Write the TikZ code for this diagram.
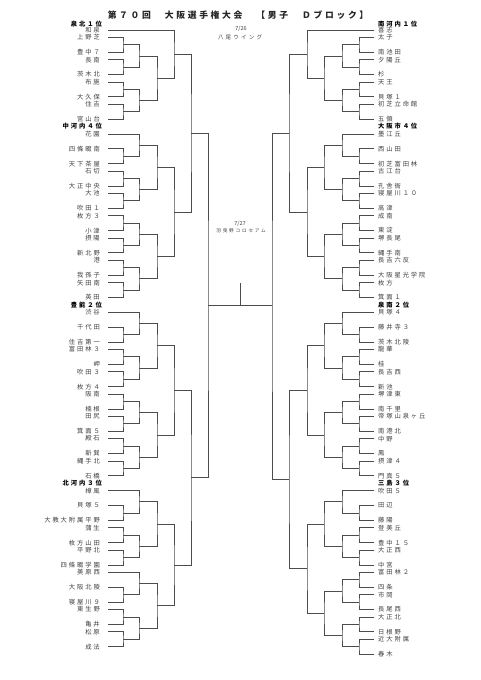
\documentclass[tikz,border=0pt]{standalone}
\usepackage{fontspec}
\setmainfont{Noto Sans CJK JP}
\newfontfamily\nmfont[LetterSpace=30]{Noto Sans CJK JP}
\newfontfamily\ttlfont[LetterSpace=30]{Noto Sans CJK JP}
\newfontfamily\vnfont[LetterSpace=40]{Noto Sans CJK JP}
\newfontfamily\dtfont{Noto Sans CJK JP}
\definecolor{ln}{gray}{0.3}
\definecolor{tx}{gray}{0.25}
\tikzset{
  lname/.style={anchor=east, inner xsep=8pt, inner ysep=0pt, text=tx, font=\nmfont\fontsize{6.3}{7}\selectfont},
  rname/.style={anchor=west, inner xsep=4pt, inner ysep=0pt, text=tx, font=\nmfont\fontsize{6.3}{7}\selectfont},
  lseed/.style={anchor=east, inner xsep=6pt, inner ysep=0pt, text=black, font=\nmfont\bfseries\fontsize{6.3}{7}\selectfont},
  rseed/.style={anchor=west, inner xsep=4pt, inner ysep=0pt, text=black, font=\nmfont\bfseries\fontsize{6.3}{7}\selectfont},
  ttl/.style={inner sep=0pt, text=black!85, font=\ttlfont\bfseries\fontsize{8.8}{10}\selectfont},
  venue/.style={inner sep=0pt, text=tx, font=\vnfont\fontsize{5.5}{6}\selectfont},
  venuesm/.style={inner sep=0pt, text=tx, font=\vnfont\fontsize{4.6}{5}\selectfont},
  datel/.style={inner sep=0pt, text=tx, font=\dtfont\fontsize{5.5}{6}\selectfont},
  br/.style={draw=ln, line width=0.85pt}
}
\newcommand\LT[3]{\node[lname] (#1) at (108,{30+7.43*(#2)}) {#3};}
\newcommand\RT[3]{\node[rname] (#1) at (374,{30+7.43*(#2)}) {#3};}
\newcommand\MC[3]{\coordinate (#1) at (#2,{30+7.43*(#3)});}
\newcommand\BR[3]{\draw[br] (#2) -| (#1) |- (#3);}
\begin{document}
\begin{tikzpicture}[x=1pt,y=-1pt]
\fill[white] (0,0) rectangle (481,680);
\useasboundingbox (0,0) rectangle (481,680);
\node[ttl] (title) at (238,15) {第７０回　大阪選手権大会　【男子　Ｄブロック】};
\node[datel] (d1) at (241,29) {7/26};
\node[venue] (v1) at (240,37) {八尾ウイング};
\node[datel] (d2) at (240,224) {7/27};
\node[venuesm] (v2) at (241,231) {羽曳野コロセアム};
% seed labels
\node[lseed] (s1) at (108,24) {泉北１位};
\node[lseed] (s2) at (108,{30+7.43*13}) {中河内４位};
\node[lseed] (s3) at (108,{30+7.43*37}) {豊能２位};
\node[lseed] (s4) at (108,{30+7.43*61}) {北河内３位};
\node[rseed] (t1) at (374,24) {南河内１位};
\node[rseed] (t2) at (374,{30+7.43*13}) {大阪市４位};
\node[rseed] (t3) at (374,{30+7.43*37}) {泉南２位};
\node[rseed] (t4) at (374,{30+7.43*61}) {三島３位};
% left teams
\LT{L1}{0}{和泉}
\LT{L2}{1}{上野芝}
\LT{L3}{3}{豊中７}
\LT{L4}{4}{長南}
\LT{L5}{6}{茨木北}
\LT{L6}{7}{布施}
\LT{L7}{9}{大久保}
\LT{L8}{10}{住吉}
\LT{L9}{12}{宮山台}
\LT{L10}{14}{花園}
\LT{L11}{16}{四條畷南}
\LT{L12}{18}{天下茶屋}
\LT{L13}{19}{石切}
\LT{L14}{21}{大正中央}
\LT{L15}{22}{大池}
\LT{L16}{24}{吹田１}
\LT{L17}{25}{枚方３}
\LT{L18}{27}{小津}
\LT{L19}{28}{摂陽}
\LT{L20}{30}{新北野}
\LT{L21}{31}{港}
\LT{L22}{33}{我孫子}
\LT{L23}{34}{矢田南}
\LT{L24}{36}{英田}
\LT{L25}{38}{渋谷}
\LT{L26}{40}{千代田}
\LT{L27}{42}{住吉第一}
\LT{L28}{43}{富田林３}
\LT{L29}{45}{岬}
\LT{L30}{46}{吹田３}
\LT{L31}{48}{枚方４}
\LT{L32}{49}{阪南}
\LT{L33}{51}{楠根}
\LT{L34}{52}{田尻}
\LT{L35}{54}{箕面５}
\LT{L36}{55}{殿石}
\LT{L37}{57}{新巽}
\LT{L38}{58}{縄手北}
\LT{L39}{60}{石橋}
\LT{L40}{62}{樟風}
\LT{L41}{64}{貝塚５}
\LT{L42}{66}{大教大附属平野}
\LT{L43}{67}{蒲生}
\LT{L44}{69}{枚方山田}
\LT{L45}{70}{平野北}
\LT{L46}{72}{四條畷学園}
\LT{L47}{73}{美原西}
\LT{L48}{75}{大阪北陵}
\LT{L49}{77}{寝屋川９}
\LT{L50}{78}{東生野}
\LT{L51}{80}{亀井}
\LT{L52}{81}{松原}
\LT{L53}{83}{成法}
% right teams
\RT{R1}{0}{喜志}
\RT{R2}{1}{太子}
\RT{R3}{3}{南池田}
\RT{R4}{4}{夕陽丘}
\RT{R5}{6}{杉}
\RT{R6}{7}{天王}
\RT{R7}{9}{貝塚１}
\RT{R8}{10}{初芝立命館}
\RT{R9}{12}{五領}
\RT{R10}{14}{墨江丘}
\RT{R11}{16}{西山田}
\RT{R12}{18}{初芝富田林}
\RT{R13}{19}{古江台}
\RT{R14}{21}{孔舎衙}
\RT{R15}{22}{寝屋川１０}
\RT{R16}{24}{高津}
\RT{R17}{25}{成南}
\RT{R18}{27}{東淀}
\RT{R19}{28}{堺長尾}
\RT{R20}{30}{縄手南}
\RT{R21}{31}{長吉六反}
\RT{R22}{33}{大阪星光学院}
\RT{R23}{34}{枚方}
\RT{R24}{36}{箕面１}
\RT{R25}{38}{貝塚４}
\RT{R26}{40}{藤井寺３}
\RT{R27}{42}{茨木北陵}
\RT{R28}{43}{龍華}
\RT{R29}{45}{桂}
\RT{R30}{46}{長吉西}
\RT{R31}{48}{新池}
\RT{R32}{49}{堺津東}
\RT{R33}{51}{南千里}
\RT{R34}{52}{帝塚山泉ヶ丘}
\RT{R35}{54}{南港北}
\RT{R36}{55}{中野}
\RT{R37}{57}{鳳}
\RT{R38}{58}{摂津４}
\RT{R39}{60}{門真５}
\RT{R40}{62}{吹田５}
\RT{R41}{64}{田辺}
\RT{R42}{66}{藤陽}
\RT{R43}{67}{登美丘}
\RT{R44}{69}{豊中１５}
\RT{R45}{70}{大正西}
\RT{R46}{72}{中宮}
\RT{R47}{73}{富田林２}
\RT{R48}{75}{四条}
\RT{R49}{76}{市岡}
\RT{R50}{78}{長尾西}
\RT{R51}{79}{大正北}
\RT{R52}{81}{日根野}
\RT{R53}{82}{近大附属}
\RT{R54}{84}{春木}
% left bracket
\MC{la1}{123}{2}\BR{la1}{L2.east}{L3.east}
\MC{la2}{123}{5}\BR{la2}{L4.east}{L5.east}
\MC{la3}{123}{8}\BR{la3}{L6.east}{L7.east}
\MC{la4}{123}{11}\BR{la4}{L8.east}{L9.east}
\MC{lb1}{139}{3.5}\BR{lb1}{la1}{la2}
\MC{lb2}{139}{9.5}\BR{lb2}{la3}{la4}
\MC{lc1}{157}{6.5}\BR{lc1}{lb1}{lb2}
\MC{ld1}{174}{3.25}\BR{ld1}{L1.east}{lc1}
\MC{la5}{123}{17}\BR{la5}{L11.east}{L12.east}
\MC{lb3}{139}{15.5}\BR{lb3}{L10.east}{la5}
\MC{la6}{123}{20}\BR{la6}{L13.east}{L14.east}
\MC{la7}{123}{23}\BR{la7}{L15.east}{L16.east}
\MC{lb4}{139}{21.5}\BR{lb4}{la6}{la7}
\MC{lc2}{157}{18.5}\BR{lc2}{lb3}{lb4}
\MC{la8}{123}{26}\BR{la8}{L17.east}{L18.east}
\MC{la9}{123}{29}\BR{la9}{L19.east}{L20.east}
\MC{lb5}{139}{27.5}\BR{lb5}{la8}{la9}
\MC{la10}{123}{32}\BR{la10}{L21.east}{L22.east}
\MC{la11}{123}{35}\BR{la11}{L23.east}{L24.east}
\MC{lb6}{139}{33.5}\BR{lb6}{la10}{la11}
\MC{lc3}{157}{30.5}\BR{lc3}{lb5}{lb6}
\MC{ld2}{174}{24.5}\BR{ld2}{lc2}{lc3}
\MC{le1}{191}{13.875}\BR{le1}{ld1}{ld2}
\MC{la12}{123}{41}\BR{la12}{L26.east}{L27.east}
\MC{lb7}{139}{39.5}\BR{lb7}{L25.east}{la12}
\MC{la13}{123}{44}\BR{la13}{L28.east}{L29.east}
\MC{la14}{123}{47}\BR{la14}{L30.east}{L31.east}
\MC{lb8}{139}{45.5}\BR{lb8}{la13}{la14}
\MC{lc4}{157}{42.5}\BR{lc4}{lb7}{lb8}
\MC{la15}{123}{50}\BR{la15}{L32.east}{L33.east}
\MC{la16}{123}{53}\BR{la16}{L34.east}{L35.east}
\MC{lb9}{139}{51.5}\BR{lb9}{la15}{la16}
\MC{la17}{123}{56}\BR{la17}{L36.east}{L37.east}
\MC{la18}{123}{59}\BR{la18}{L38.east}{L39.east}
\MC{lb10}{139}{57.5}\BR{lb10}{la17}{la18}
\MC{lc5}{157}{54.5}\BR{lc5}{lb9}{lb10}
\MC{ld3}{174}{48.5}\BR{ld3}{lc4}{lc5}
\MC{la19}{123}{65}\BR{la19}{L41.east}{L42.east}
\MC{lb11}{139}{63.5}\BR{lb11}{L40.east}{la19}
\MC{la20}{123}{68}\BR{la20}{L43.east}{L44.east}
\MC{la21}{123}{71}\BR{la21}{L45.east}{L46.east}
\MC{lb12}{139}{69.5}\BR{lb12}{la20}{la21}
\MC{lc6}{157}{66.5}\BR{lc6}{lb11}{lb12}
\MC{la22}{123}{76}\BR{la22}{L48.east}{L49.east}
\MC{lb13}{139}{74.5}\BR{lb13}{L47.east}{la22}
\MC{la23}{123}{79}\BR{la23}{L50.east}{L51.east}
\MC{la24}{123}{82}\BR{la24}{L52.east}{L53.east}
\MC{lb14}{139}{80.5}\BR{lb14}{la23}{la24}
\MC{lc7}{157}{77.5}\BR{lc7}{lb13}{lb14}
\MC{ld4}{174}{72}\BR{ld4}{lc6}{lc7}
\MC{le2}{191}{60.25}\BR{le2}{ld3}{ld4}
\MC{lf}{208}{37.125}\BR{lf}{le1}{le2}
% right bracket
\MC{ra1}{359}{2}\BR{ra1}{R2.west}{R3.west}
\MC{ra2}{359}{5}\BR{ra2}{R4.west}{R5.west}
\MC{ra3}{359}{8}\BR{ra3}{R6.west}{R7.west}
\MC{ra4}{359}{11}\BR{ra4}{R8.west}{R9.west}
\MC{rb1}{342}{3.5}\BR{rb1}{ra1}{ra2}
\MC{rb2}{342}{9.5}\BR{rb2}{ra3}{ra4}
\MC{rc1}{324}{6.5}\BR{rc1}{rb1}{rb2}
\MC{rd1}{307}{3.25}\BR{rd1}{R1.west}{rc1}
\MC{ra5}{359}{17}\BR{ra5}{R11.west}{R12.west}
\MC{rb3}{342}{15.5}\BR{rb3}{R10.west}{ra5}
\MC{ra6}{359}{20}\BR{ra6}{R13.west}{R14.west}
\MC{ra7}{359}{23}\BR{ra7}{R15.west}{R16.west}
\MC{rb4}{342}{21.5}\BR{rb4}{ra6}{ra7}
\MC{rc2}{324}{18.5}\BR{rc2}{rb3}{rb4}
\MC{ra8}{359}{26}\BR{ra8}{R17.west}{R18.west}
\MC{ra9}{359}{29}\BR{ra9}{R19.west}{R20.west}
\MC{rb5}{342}{27.5}\BR{rb5}{ra8}{ra9}
\MC{ra10}{359}{32}\BR{ra10}{R21.west}{R22.west}
\MC{ra11}{359}{35}\BR{ra11}{R23.west}{R24.west}
\MC{rb6}{342}{33.5}\BR{rb6}{ra10}{ra11}
\MC{rc3}{324}{30.5}\BR{rc3}{rb5}{rb6}
\MC{rd2}{307}{24.5}\BR{rd2}{rc2}{rc3}
\MC{re1}{289}{13.875}\BR{re1}{rd1}{rd2}
\MC{ra12}{359}{41}\BR{ra12}{R26.west}{R27.west}
\MC{rb7}{342}{39.5}\BR{rb7}{R25.west}{ra12}
\MC{ra13}{359}{44}\BR{ra13}{R28.west}{R29.west}
\MC{ra14}{359}{47}\BR{ra14}{R30.west}{R31.west}
\MC{rb8}{342}{45.5}\BR{rb8}{ra13}{ra14}
\MC{rc4}{324}{42.5}\BR{rc4}{rb7}{rb8}
\MC{ra15}{359}{50}\BR{ra15}{R32.west}{R33.west}
\MC{ra16}{359}{53}\BR{ra16}{R34.west}{R35.west}
\MC{rb9}{342}{51.5}\BR{rb9}{ra15}{ra16}
\MC{ra17}{359}{56}\BR{ra17}{R36.west}{R37.west}
\MC{ra18}{359}{59}\BR{ra18}{R38.west}{R39.west}
\MC{rb10}{342}{57.5}\BR{rb10}{ra17}{ra18}
\MC{rc5}{324}{54.5}\BR{rc5}{rb9}{rb10}
\MC{rd3}{307}{48.5}\BR{rd3}{rc4}{rc5}
\MC{ra19}{359}{65}\BR{ra19}{R41.west}{R42.west}
\MC{rb11}{342}{63.5}\BR{rb11}{R40.west}{ra19}
\MC{ra20}{359}{68}\BR{ra20}{R43.west}{R44.west}
\MC{ra21}{359}{71}\BR{ra21}{R45.west}{R46.west}
\MC{rb12}{342}{69.5}\BR{rb12}{ra20}{ra21}
\MC{rc6}{324}{66.5}\BR{rc6}{rb11}{rb12}
\MC{ra22}{359}{74}\BR{ra22}{R47.west}{R48.west}
\MC{ra23}{359}{77}\BR{ra23}{R49.west}{R50.west}
\MC{rb13}{342}{75.5}\BR{rb13}{ra22}{ra23}
\MC{ra24}{359}{80}\BR{ra24}{R51.west}{R52.west}
\MC{ra25}{359}{83}\BR{ra25}{R53.west}{R54.west}
\MC{rb14}{342}{81.5}\BR{rb14}{ra24}{ra25}
\MC{rc7}{324}{78.5}\BR{rc7}{rb13}{rb14}
\MC{rd4}{307}{72.5}\BR{rd4}{rc6}{rc7}
\MC{re2}{289}{60.5}\BR{re2}{rd3}{rd4}
\MC{rf}{272}{37.125}\BR{rf}{re1}{re2}
% final
\draw[br] (lf) -- (rf);
\coordinate (win) at (240,283);
\MC{ctr}{240}{37.125}
\draw[br] (win) -- (ctr);
\end{tikzpicture}
\end{document}
